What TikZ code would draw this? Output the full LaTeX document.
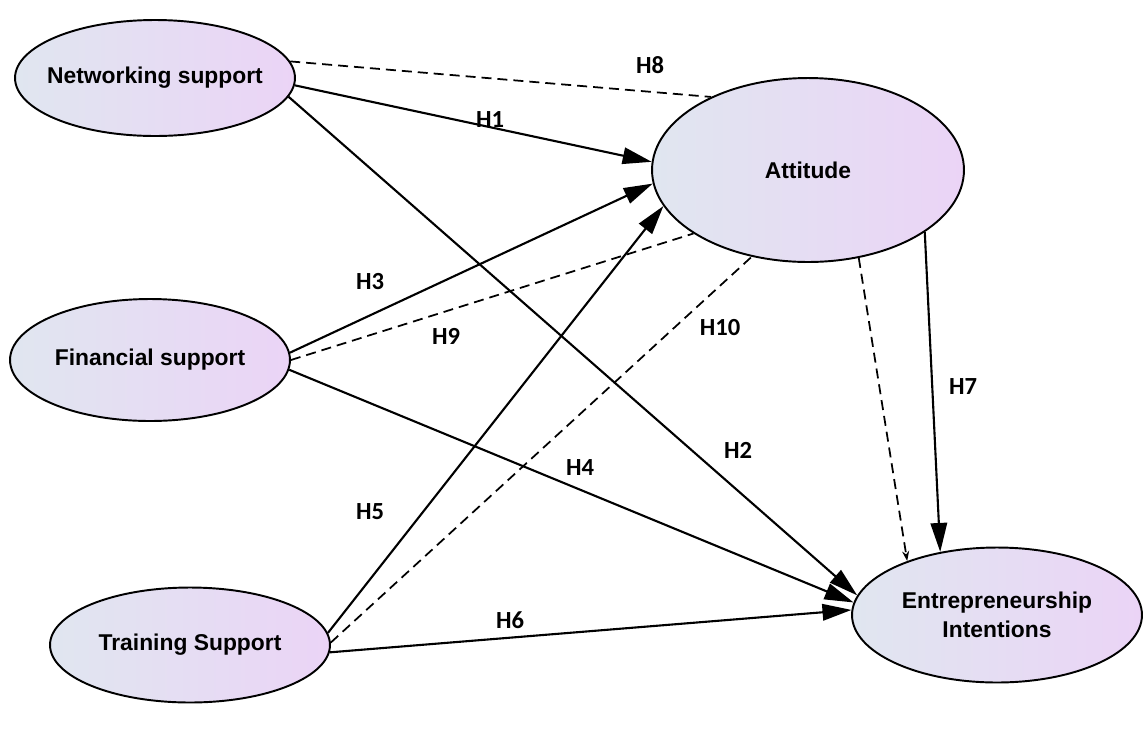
\documentclass[tikz,border=0pt]{standalone}
\usepackage{fontspec}
\setmainfont{Liberation Sans}
\newfontfamily\hypfont{Carlito}
\usetikzlibrary{shapes.geometric,arrows.meta}
\definecolor{shadeleft}{RGB}{224,230,240}
\definecolor{shaderight}{RGB}{235,212,246}

\begin{document}
\begin{tikzpicture}[x=0.02cm, y=-0.02cm,
  factor/.style={ellipse, draw=black, line width=1.1pt, left color=shadeleft, right color=shaderight,
    inner sep=0pt, inner xsep=-8pt, align=center, font=\fontsize{13}{16.5}\selectfont\bfseries},
  link/.style={line width=1.2pt, -{Triangle[length=0.58cm, width=0.33cm]}},
  dashlink/.style={line width=1pt, dash pattern=on 0.2cm off 0.12cm},
  hyp/.style={font=\hypfont\fontsize{14}{16}\selectfont\bfseries}]
  \useasboundingbox (0,0) rectangle (1143,731);

  % constructs
  \node[factor, minimum width=5.6cm, minimum height=2.32cm] (net) at (155,78) {Networking support};
  \node[factor, minimum width=5.6cm, minimum height=2.44cm] (fin) at (150,360) {Financial support};
  \node[factor, minimum width=5.6cm, minimum height=2.3cm] (trn) at (190,645) {Training Support};
  \node[factor, minimum width=6.24cm, minimum height=3.68cm] (att) at (808,170) {Attitude};
  \node[factor, minimum width=5.8cm, minimum height=2.7cm] (ent) at (997,615) {Entrepreneurship\\Intentions};

  % paths
  \draw[dashlink] (net.7) -- (att.143);
  \draw[link] (net.-3) -- (att.177);
  \draw[link] (net.-8) -- (ent.172);
  \draw[link] (fin.3) -- (att.185);
  \draw[dashlink] (fin.0) -- (att.209);
  \draw[link] (fin.-4) -- (ent.175);
  \draw[link] (trn.5) -- (att.194);
  \draw[dashlink] (trn.1) -- (att.237);
  \draw[link] (trn.-3) -- (ent.178);
  \draw[link] (att.332) -- (ent.132);
  \draw[dashlink, -{Stealth[length=0.2cm, width=0.14cm]}] (att.300) -- (ent.149);

  % hypotheses
  \node[hyp] (h1) at (490,120) {H1};
  \node[hyp] (h2) at (738,450) {H2};
  \node[hyp] (h3) at (370,282) {H3};
  \node[hyp] (h4) at (580,468) {H4};
  \node[hyp] (h5) at (370,512) {H5};
  \node[hyp] (h6) at (510,620) {H6};
  \node[hyp] (h7) at (963,387) {H7};
  \node[hyp] (h8) at (650,65) {H8};
  \node[hyp] (h9) at (446,336) {H9};
  \node[hyp] (h10) at (720,328) {H10};
\end{tikzpicture}
\end{document}
